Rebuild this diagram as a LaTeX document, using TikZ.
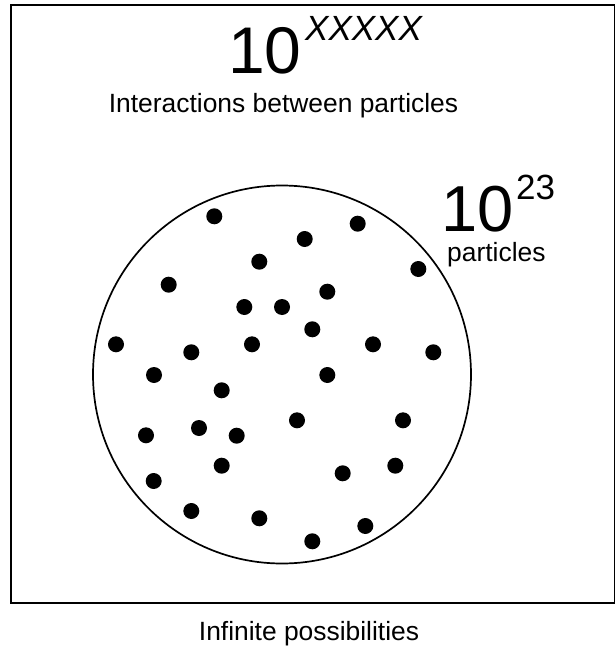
\documentclass[tikz,border=0pt]{standalone}
\usepackage{fontspec}
\setmainfont{Liberation Sans}
\begin{document}
\begin{tikzpicture}[x=1bp,y=-1bp,
  dot/.style={circle,fill=black,inner sep=0pt,minimum size=16bp},
  txt/.style={inner sep=0pt,font=\fontsize{26.4bp}{30bp}\selectfont},
  big/.style={inner sep=0pt,anchor=base west,font=\fontsize{66bp}{70bp}\selectfont},
  sup/.style={inner sep=0pt,anchor=base west,font=\fontsize{35bp}{40bp}\selectfont}]
\useasboundingbox (0,0) rectangle (615,648);
\node[draw,line width=2bp,minimum width=604.5bp,minimum height=597.5bp,inner sep=0pt,anchor=north west] (frame) at (9.5,4.5) {};
\node[draw,circle,line width=1.7bp,minimum size=378bp,inner sep=0pt] (ball) at (282,374.5) {};
\node[big] (tenA) at (228,74) {10};
\node[sup,font=\fontsize{35bp}{40bp}\selectfont\itshape] (supA) at (305,41) {XXXXX};
\node[txt,anchor=base] (inter) at (283.5,113) {Interactions between particles};
\node[big,font=\fontsize{65bp}{70bp}\selectfont] (tenB) at (441,231.7) {10};
\node[sup] (supB) at (516,199) {23};
\node[txt,anchor=base west] (part) at (447,261.7) {particles};
\node[txt,anchor=base] (inf) at (309,640) {Infinite possibilities};
\foreach \n/\x/\y in {1/214.3/216.3,2/357.7/223.7,3/304.7/239,4/259.3/261.7,5/418.3/269,
  6/168.7/284.7,7/327.3/291.7,8/244.3/307,9/282/307,10/312.3/329.3,11/116/344.3,
  12/252/344.3,13/373/344.3,14/191.3/352.3,15/433.3/352.3,16/154/375,17/327.3/375,
  18/221.7/390.3,19/297/420.3,20/403/420.3,21/199/428,22/146/435.3,23/236.7/435.7,
  24/221.7/465.7,25/395.3/465.7,26/342.7/473.3,27/153.7/481,28/191.3/511,
  29/259.3/518.3,30/365.3/526,31/312.3/541.3}
  \node[dot] (d\n) at (\x,\y) {};
\end{tikzpicture}
\end{document}
